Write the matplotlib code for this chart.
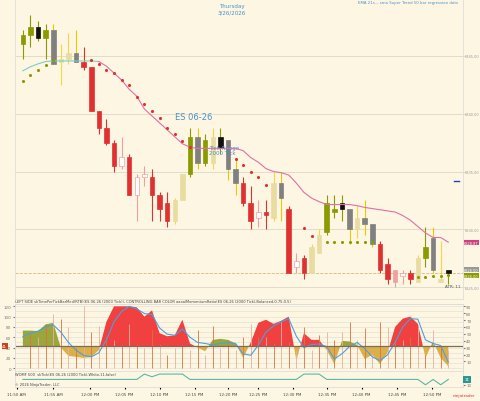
import numpy as np
import matplotlib
matplotlib.use("Agg")
import matplotlib.pyplot as plt

BG = '#fdf6e3'
high = [6347.25,6348.5,6348.0,6347.75,6347.75,6346.0,6347.0,6347.25,6345.75,6344.0,6340.25,6339.5,6337.75,6338.0,6336.5,6334.75,6335.5,6335.25,6333.25,6333.25,6332.75,6334.75,6338.75,6338.75,6338.25,6338.75,6338.75,6337.75,6336.0,6334.5,6333.75,6332.5,6332.5,6335.0,6335.0,6332.0,6328.0,6327.75,6328.75,6330.0,6333.0,6333.0,6333.0,6331.75,6332.0,6332.5,6330.5,6329.0,6327.5,6326.5,6326.5,6326.5,6327.75,6330.25,6330.25,6329.0,6326.5]
low = [6344.75,6345.75,6346.25,6344.75,6344.25,6342.5,6344.25,6344.5,6343.75,6340.25,6338.25,6337.25,6335.0,6335.25,6333.0,6330.75,6333.75,6330.75,6330.75,6330.25,6330.5,6332.5,6334.5,6335.25,6335.5,6335.25,6336.5,6334.25,6333.0,6332.0,6330.0,6330.25,6330.0,6330.75,6330.75,6326.25,6326.25,6325.75,6326.25,6328.0,6329.5,6331.0,6330.75,6328.75,6329.25,6329.5,6328.5,6326.25,6325.25,6325.0,6325.25,6325.25,6325.5,6326.75,6326.25,6325.5,6325.25]
body_top = [6346.75,6347.5,6347.5,6347.25,6347.25,6344.75,6345.25,6345.25,6344.5,6344.0,6340.25,6338.75,6337.5,6336.25,6336.25,6334.5,6334.75,6334.5,6333.0,6332.25,6332.5,6334.75,6338.0,6338.0,6337.75,6338.0,6338.0,6337.75,6335.25,6334.0,6332.25,6331.5,6331.5,6334.0,6334.0,6331.75,6327.25,6327.5,6328.5,6329.5,6332.25,6331.75,6332.25,6331.75,6331.0,6331.0,6330.5,6328.75,6327.0,6326.5,6326.25,6326.25,6327.5,6328.5,6329.25,6325.75,6326.5]
body_bot = [6346.0,6346.75,6346.5,6346.5,6344.25,6344.5,6344.75,6344.5,6344.0,6340.25,6338.75,6337.5,6335.5,6335.5,6333.0,6333.0,6334.5,6333.0,6331.75,6330.75,6330.75,6332.5,6334.75,6335.75,6335.75,6335.75,6337.0,6335.25,6334.0,6332.25,6330.75,6331.0,6331.25,6331.0,6332.75,6326.25,6326.75,6326.25,6326.25,6328.0,6329.75,6331.5,6331.75,6330.0,6330.0,6330.5,6328.75,6326.5,6325.75,6325.5,6326.0,6325.75,6325.5,6327.5,6326.5,6325.5,6326.25]
kind = ['olive','olive','black','olive','gray','cream','cream','gray','red','red','red','red','red','hollow','red','hollow','hollow','red','red','red','cream','cream','olive','gray','olive','cream','black','gray','gray','red','red','hollow','red','cream','gray','red','hollow','red','cream','cream','olive','olive','black','gray','cream','gray','gray','red','red','pink','hollow','red','cream','olive','gray','cream','black']
ema = [6343.7,6344.05,6344.3,6344.5,6344.55,6344.55,6344.55,6344.55,6344.55,6344.55,6344.5,6344.1,6343.5,6342.9,6342.1,6341.5,6340.4,6339.8,6339.2,6338.6,6338.0,6337.4,6337.1,6337.0,6337.0,6337.0,6337.0,6337.0,6337.0,6336.8,6336.2,6335.8,6335.25,6335.0,6334.9,6334.7,6334.0,6333.2,6332.7,6332.4,6332.15,6332.15,6332.15,6332.15,6332.05,6331.9,6331.8,6331.7,6331.6,6331.5,6331.2,6330.8,6330.25,6329.7,6329.3,6329.3,6328.9]
n = 57
nan = np.nan
st_up = [6342.8,6343.3,6343.8,6344.2,6344.6] + [nan]*35 + [6328.9]*7 + [nan]*5 + [6325.9,6325.9,6326.0,6326.0,6326.1]
st_dn = [nan]*9 + [6344.6,6344.3,6343.8,6343.5,6342.9,6342.5,6341.4,6340.8,6340.2,6339.6,6338.8,6338.2,6337.6,6337.1,nan,nan,nan,nan,nan,6336.1,6335.6,6335.0,6334.5,6333.8,nan,nan,nan,nan,6330.1,6329.4] + [nan]*18
osc = [73,73,72,85,88,40,24,22,20,22,35,90,120,120,120,118,100,112,68,62,64,94,48,40,33,55,57,55,48,20,50,88,94,86,92,100,15,68,55,55,35,8,53,52,45,18,26,8,30,80,96,100,86,20,52,20,4]
sig = [61,68,72,80,84,70,50,35,25,22,30,55,90,110,120,115,106,104,78,66,64,76,60,50,48,45,48,50,48,28,25,45,70,82,90,96,62,40,46,47,42,18,28,42,50,38,22,15,26,50,80,96,95,55,48,44,12]
spikes = [0,67,60,86,105,96,80,40,120,70,82,60,55,45,85,45,40,75,45,25,40,45,35,75,25,82,40,55,35,60,85,60,60,48,90,50,35,80,35,65,70,55,70,90,55,78,30,90,80,55,55,60,80,25,75,40,35]
womf = [11]*16 + [12,11.5,12,12,12,12] + [11]*15 + [12,12,12] + [11]*13 + [10,11,10,11]
tick_pos = [-0.8,4.0,8.8,13.4,18.0,22.6,27.0,31.0,35.5,40.0,44.6,49.3,53.9]
tick_lab = ['11:50 AM','11:55 AM','12:00 PM','12:05 PM','12:10 PM','12:15 PM','12:20 PM','12:25 PM','12:30 PM','12:35 PM','12:40 PM','12:45 PM','12:50 PM']
price_ticks = [6325,6330,6335,6340,6345]

fig = plt.figure(figsize=(4.8,4.02), dpi=100, facecolor=BG)
x = np.arange(n)
XL = (-1.05, 57.9)
GRID = '#e2dccb'
fs = 3.0

ax = fig.add_axes([0.031,0.254,0.933,0.746], facecolor=BG)
cols = {'olive':('#8a9a00','#8a9a00','#8a9a00'),'black':('#111111','#111111','#8a9a00'),
        'gray':('#808080','#808080','#e8c800'),'cream':('#e8dca0','#e8dca0','#f5d840'),
        'red':('#e03030','#e03030','#e03030'),'hollow':('#ffffff','#f0a0a0','#f0a0a0'),
        'pink':('#f0a0a0','#f0a0a0','#f0a0a0')}
for i in range(n):
    fc, ec, wc = cols[kind[i]]
    ax.vlines(x[i], low[i], high[i], color=wc, lw=0.8, zorder=2)
    h = max(body_top[i]-body_bot[i], 0.08)
    ax.bar(x[i], h, bottom=body_bot[i], width=0.6, color=fc, edgecolor=ec, lw=0.5, zorder=3)
ax.plot(x[:11], ema[:11], color='#7ccfc0', lw=0.8, zorder=4)
ax.plot(x[10:], ema[10:], color='#e070a8', lw=0.8, zorder=4)
ax.scatter(x, st_up, s=1.5, color='#8a9a00', zorder=4)
ax.scatter(x, st_dn, s=1.5, color='#e03030', zorder=4)
ax.axhline(6326.25, color='#d8b880', lw=0.6, ls='--')
for p in price_ticks:
    ax.axhline(p, color=GRID, lw=0.7, zorder=0)
ax.set_xlim(*XL); ax.set_ylim(6324.0, 6349.9)
ax.yaxis.tick_right()
ax.set_yticks(price_ticks); ax.set_yticklabels([f'{p:.2f}' for p in price_ticks], fontsize=2.5, color='#555')
ax.tick_params(length=1.0, width=0.4, pad=0.3, colors='#999')
ax.set_xticks([])
for s in ax.spines.values(): s.set_color('#ddd'); s.set_linewidth(0.6)
ax.text(0.485,0.985,'Thursday\n3/26/2026', transform=ax.transAxes, ha='center', va='top', fontsize=4, color='#4a90c8')
ax.text(0.99,0.995,'EMA 21s.., sma Super Trend 50 bar regression dots', transform=ax.transAxes, ha='right', va='top', fontsize=2.8, color='#4a90c8')
ax.text(20.0,6339.5,'ES 06-26', fontsize=6, color='#4a90c8')
ax.text(24.5,6337.3,'Tick Range\n2000 Tick', fontsize=4, color='#4a90c8', va='top', linespacing=1.0)
ax.plot([56.7,57.4],[6334.2,6334.2], color='#2040c0', lw=1)
for yv, lab, c in [(6328.87,'6328.87','#d04080'),(6326.5,'6326.50','#999999'),(6326.0,'6326.00','#8a9a00')]:
    ax.text(1.003, yv, lab, transform=ax.get_yaxis_transform(), fontsize=2.5, color='white', va='center',
            bbox=dict(boxstyle='square,pad=0.15', fc=c, ec='none'))
ax.text(0.995,0.04,'ATR: 11', transform=ax.transAxes, ha='right', fontsize=3, color='#555')

ax2 = fig.add_axes([0.031,0.075,0.933,0.167], facecolor=BG)
base = 43
o = np.array(osc, float)
red_mask = np.ones(n, bool)
for i in [0,1,2,3,4,25,26,27,28,42,43,44,54]: red_mask[i] = False
ax2.fill_between(x, base, o, where=(o>=base)&red_mask, interpolate=True, color='#f04040', lw=0)
ax2.fill_between(x, base, o, where=(o>=base)&~red_mask, interpolate=True, color='#8a9a20', alpha=0.85, lw=0)
ax2.fill_between(x, base, o, where=o<base, interpolate=True, color='#d8a838', alpha=0.9, lw=0)
for i in range(n):
    ax2.vlines(x[i], 0, spikes[i], color='#e07040' if i%2 else '#e8b0a0', lw=0.6)
ax2.plot(x, sig, color='#4aa0e0', lw=0.8)
ax2.axhline(base, color='#7a6e5a', lw=0.9)
for v in range(0,125,10): ax2.axhline(v, color=GRID, lw=0.4, zorder=0)
ax2.set_xlim(*XL); ax2.set_ylim(-5,125)
ax2.set_yticks([0,20,40,60,80,100,120]); ax2.tick_params(labelsize=fs, length=1.5, pad=1, colors='#777')
ax2.set_xticks([])
r = ax2.twinx(); r.set_ylim(-5/1.333,125/1.333)
r.set_yticks(range(10,100,10)); r.tick_params(labelsize=fs, length=1.5, pad=1, colors='#777')
for a in (ax2, r):
    for s in a.spines.values(): s.set_color('#ddd'); s.set_linewidth(0.6)
ax2.text(0.0,1.02,'LEFT SIDE skTimePerTickBarMed(RTB)(ES 06-26 (2000 Tick)), CONTROLLING BAR COLOR aaaalMomentumRatio(ES 06-26 (2000 Tick),Balanced,0.75,0.5)',
         transform=ax2.transAxes, fontsize=2.6, color='#444')
ax2.text(-0.028,base,'41',transform=ax2.get_yaxis_transform(),fontsize=3,color='white',va='center',
         bbox=dict(boxstyle='square,pad=0.2', fc='#d04020', ec='none'))

ax3 = fig.add_axes([0.031,0.035,0.933,0.04], facecolor=BG)
ax3.plot(x, womf, color='#5ab8a8', lw=0.8)
ax3.set_xlim(*XL); ax3.set_ylim(9.6,12.6)
ax3.set_xticks(tick_pos); ax3.set_xticklabels(tick_lab, fontsize=2.9, color='#444')
ax3.tick_params(axis='x', length=1.5, pad=2)
ax3.yaxis.tick_right(); ax3.set_yticks([10]); ax3.set_yticklabels(['10'], fontsize=fs)
ax3.tick_params(axis='y', length=1.5, pad=1, colors='#777')
ax3.text(1.004, 11, '11', transform=ax3.get_yaxis_transform(), fontsize=3, color='white', va='center',
         bbox=dict(boxstyle='square,pad=0.3', fc='#2a9a90', ec='none'))
for s in ax3.spines.values(): s.set_color('#ddd'); s.set_linewidth(0.6)
ax3.text(0.0,0.75,'WOMF 500  skTick(ES 06-26 (2000 Tick),White,11,false)', transform=ax3.transAxes, fontsize=2.6, color='#444')
ax3.text(0.0,0.05,'© 2026 NinjaTrader, LLC', transform=ax3.transAxes, fontsize=2.6, color='#444', va='bottom')
fig.text(0.99,0.012,'ninjatrader', ha='right', fontsize=3, color='#e03030')

fig.savefig('out.png', dpi=100, facecolor=BG)
